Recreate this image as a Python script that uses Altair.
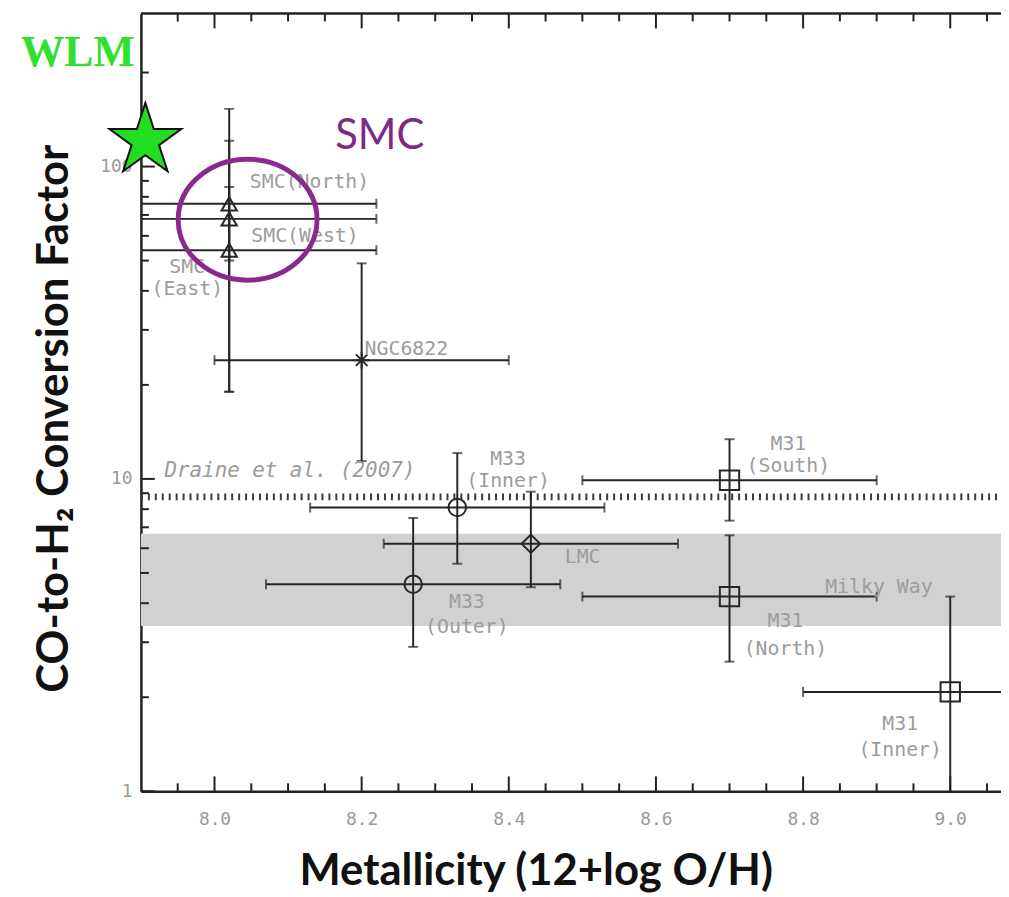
import altair as alt
import pandas as pd

# ---------------- data ----------------
names = ["SMC (North)", "SMC (West)", "SMC (East)", "NGC6822", "M33 (Inner)",
         "LMC", "M33 (Outer)", "M31 (South)", "M31 (North)", "M31 (Inner)"]
kinds = ["SMC", "SMC", "SMC", "NGC6822", "M33", "LMC", "M33", "M31", "M31", "M31"]
metallicity = [8.02, 8.02, 8.02, 8.20, 8.33, 8.43, 8.27, 8.70, 8.70, 9.00]
metallicity_err = [0.20, 0.20, 0.20, 0.20, 0.20, 0.20, 0.20, 0.20, 0.20, 0.20]
alpha_co = [76.0, 68.0, 54.0, 24.0, 8.1, 6.2, 4.6, 9.9, 4.2, 2.08]
alpha_lo = [50.0, 19.0, 19.0, 11.4, 5.35, 4.5, 2.9, 7.35, 2.6, 0.5]
alpha_hi = [153.0, 121.0, 86.0, 49.0, 12.1, 9.1, 7.5, 13.4, 6.6, 4.2]

# WLM highlight
wlm_metal = [7.906]
wlm_alpha = [121.0]

# Milky Way range (grey band) and Draine et al. (2007) level
band_lo = [3.38]
band_hi = [6.67]
draine_level = [8.76]

# axis ticks
x_major = [8.0, 8.2, 8.4, 8.6, 8.8, 9.0]
x_minor = [7.95, 8.05, 8.10, 8.15, 8.25, 8.30, 8.35, 8.45, 8.50, 8.55,
           8.65, 8.70, 8.75, 8.85, 8.90, 8.95, 9.05]
y_major = [1, 10, 100]
y_minor = [2, 3, 4, 5, 6, 7, 8, 9, 20, 30, 40, 50, 60, 70, 80, 90, 200]

# labels
lab_left_text = ["SMC(North)", "SMC(West)", "NGC6822", "LMC", "Milky Way"]
lab_left_x = [8.048, 8.050, 8.204, 8.476, 8.83]
lab_left_y = [89.5, 60.1, 26.1, 5.62, 4.51]
lab_ctr_text = ["SMC", "(East)", "M33", "(Inner)", "M33", "(Outer)", "M31", "(South)",
                "M31", "(North)", "M31", "(Inner)"]
lab_ctr_x = [7.963, 7.963, 8.399, 8.399, 8.343, 8.343, 8.78, 8.78, 8.776, 8.776, 8.932, 8.932]
lab_ctr_y = [47.8, 40.6, 11.6, 9.85, 4.03, 3.36, 12.96, 11.0, 3.51, 2.85, 1.64, 1.36]
draine_text = ["Draine et al. (2007)"]
draine_x = [7.932]
draine_y = [10.6]

# ---------------- chart ----------------
W, H = 867, 784
xs = alt.Scale(domain=[7.9, 9.069], nice=False, zero=False)
ys = alt.Scale(type="log", domain=[1, 309], nice=False)

X_AXIS = alt.Axis(
    orient="bottom",
    title="Metallicity (12+log O/H)", values=x_major, format=".1f", ticks=False, tickSize=0,
    grid=False, labelPadding=20, labelFont="DejaVu Sans Mono", labelFontSize=18,
    labelColor="#999999", labelFlush=False, labelOverlap=False,
    domainColor="#222222", domainWidth=2.5,
    titleFont="Lato", titleFontWeight="bold", titleFontSize=44, titleColor="#111111",
    titleX=398, titleY=94, titleAlign="center", titleBaseline="alphabetic")
Y_AXIS = alt.Axis(
    orient="left",
    title="CO-to-H₂ Conversion Factor", values=y_major, format="d", ticks=False, tickSize=0,
    grid=False, labelPadding=9, labelFont="DejaVu Sans Mono", labelFontSize=18,
    labelColor="#999999", labelFlush=False, labelOverlap=False,
    domainColor="#222222", domainWidth=2.5,
    titleFont="Lato", titleFontWeight="bold", titleFontSize=44, titleColor="#111111",
    titleX=-87, titleY=408, titleAngle=270, titleAlign="center", titleBaseline="middle")


def X(f):
    return alt.X(f, type="quantitative", scale=xs, axis=X_AXIS)


def Y(f):
    return alt.Y(f, type="quantitative", scale=ys, axis=Y_AXIS)


df = pd.DataFrame({"name": names, "kind": kinds, "metal": metallicity,
                   "merr": metallicity_err, "alpha": alpha_co,
                   "alo": alpha_lo, "ahi": alpha_hi})
df["mlo"] = df["metal"] - df["merr"]
df["mhi"] = df["metal"] + df["merr"]

caps_v = pd.concat([df[["metal"]].assign(a=df["alo"]), df[["metal"]].assign(a=df["ahi"])])
caps_h = pd.concat([df[["alpha"]].assign(m=df["mlo"]), df[["alpha"]].assign(m=df["mhi"])])

band = alt.Chart(pd.DataFrame({"lo": band_lo, "hi": band_hi})).mark_rect(
    color="#d1d1d1", clip=True).encode(y=Y("lo"), y2="hi", x=alt.value(0), x2=alt.value(W))

draine = alt.Chart(pd.DataFrame({"v": draine_level})).mark_rule(
    color="#3a3a3a", strokeWidth=7, strokeDash=[2, 5], clip=True).encode(
    y=Y("v"), x=alt.value(0), x2=alt.value(W))

ink = "#262626"
err_x = alt.Chart(df).mark_rule(color=ink, strokeWidth=2, clip=True).encode(
    x=X("mlo"), x2="mhi", y=Y("alpha"))
err_y = alt.Chart(df).mark_rule(color=ink, strokeWidth=2, clip=True).encode(
    x=X("metal"), y=Y("alo"), y2="ahi")
cap_y = alt.Chart(caps_v).mark_tick(color=ink, orient="horizontal", size=10,
                                    thickness=2, clip=True).encode(x=X("metal"), y=Y("a"))
cap_x = alt.Chart(caps_h).mark_tick(color=ink, orient="vertical", size=10,
                                    thickness=2, clip=True).encode(x=X("m"), y=Y("alpha"))

asterisk = "M-1,0L1,0M0,-1L0,1M-0.7,-0.7L0.7,0.7M-0.7,0.7L0.7,-0.7"
kind_dom = ["SMC", "NGC6822", "M33", "LMC", "M31"]
points = alt.Chart(df).mark_point(filled=False, stroke=ink, strokeWidth=2, opacity=1,
                                  clip=True).encode(
    x=X("metal"), y=Y("alpha"),
    shape=alt.Shape("kind:N", scale=alt.Scale(
        domain=kind_dom, range=["triangle-up", asterisk, "circle", "diamond", "square"]),
        legend=None),
    size=alt.Size("kind:N", scale=alt.Scale(domain=kind_dom, range=[240, 380, 290, 300, 500]),
                  legend=None))

# ticks drawn inward
tick_col = "#222222"
xt_major_b = alt.Chart(pd.DataFrame({"v": x_major})).mark_rule(color=tick_col, strokeWidth=2).encode(
    x=X("v"), y=alt.value(H), y2=alt.value(H - 15))
xt_minor_b = alt.Chart(pd.DataFrame({"v": x_minor})).mark_rule(color=tick_col, strokeWidth=2).encode(
    x=X("v"), y=alt.value(H), y2=alt.value(H - 8))
xt_major_t = alt.Chart(pd.DataFrame({"v": x_major})).mark_rule(color=tick_col, strokeWidth=2).encode(
    x=X("v"), y=alt.value(0), y2=alt.value(15))
xt_minor_t = alt.Chart(pd.DataFrame({"v": x_minor})).mark_rule(color=tick_col, strokeWidth=2).encode(
    x=X("v"), y=alt.value(0), y2=alt.value(8))
yt_major = alt.Chart(pd.DataFrame({"v": y_major})).mark_rule(color=tick_col, strokeWidth=2).encode(
    y=Y("v"), x=alt.value(0), x2=alt.value(14))
yt_minor = alt.Chart(pd.DataFrame({"v": y_minor})).mark_rule(color=tick_col, strokeWidth=2).encode(
    y=Y("v"), x=alt.value(0), x2=alt.value(8))
top_border = alt.Chart(pd.DataFrame({"v": [0]})).mark_rule(color="#222222", strokeWidth=2.5).encode(
    y=alt.value(0), x=alt.value(0), x2=alt.value(W))

lab_font = "DejaVu Sans Mono"
lab_col = "#9c9c9c"
lab_left = alt.Chart(pd.DataFrame({"t": lab_left_text, "x": lab_left_x, "y": lab_left_y})).mark_text(
    align="left", baseline="middle", font=lab_font, fontSize=20, color=lab_col).encode(
    x=X("x"), y=Y("y"), text="t:N")
lab_ctr = alt.Chart(pd.DataFrame({"t": lab_ctr_text, "x": lab_ctr_x, "y": lab_ctr_y})).mark_text(
    align="center", baseline="middle", font=lab_font, fontSize=20, color=lab_col).encode(
    x=X("x"), y=Y("y"), text="t:N")
lab_draine = alt.Chart(pd.DataFrame({"t": draine_text, "x": draine_x, "y": draine_y})).mark_text(
    align="left", baseline="middle", font=lab_font, fontSize=21, fontStyle="italic",
    color=lab_col).encode(x=X("x"), y=Y("y"), text="t:N")

# WLM highlight and SMC annotation
star = ("M0,-1L0.2245,-0.309L0.951,-0.309L0.3633,0.118L0.5878,0.809L0,0.382"
        "L-0.5878,0.809L-0.3633,0.118L-0.951,-0.309L-0.2245,-0.309Z")
wlm_df = pd.DataFrame({"m": wlm_metal, "a": wlm_alpha})
wlm_star = alt.Chart(wlm_df).mark_point(shape=star, filled=True, fill="#22dd22",
                                        stroke="#111111", strokeWidth=2, opacity=1,
                                        size=5800).encode(x=X("m"), y=Y("a"))
wlm_text = alt.Chart(pd.DataFrame({"t": ["WLM"], "m": [7.814], "a": [230.0]})).mark_text(
    font="Liberation Serif", fontWeight="bold", fontSize=44, color="#2fe02f",
    align="center", baseline="middle").encode(x=X("m"), y=Y("a"), text="t:N")
smc_text = alt.Chart(pd.DataFrame({"t": ["SMC"], "m": [8.2245], "a": [125.6]})).mark_text(
    font="Lato", fontSize=42, color="#7e2a84", align="center", baseline="middle").encode(
    x=X("m"), y=Y("a"), text="t:N")
# ellipse as four cubic curves (rx = 1, ry = 0.871)
ellipse = ("M1,0C1,0.481,0.5523,0.871,0,0.871C-0.5523,0.871,-1,0.481,-1,0"
           "C-1,-0.481,-0.5523,-0.871,0,-0.871C0.5523,-0.871,1,-0.481,1,0Z")
smc_ring = alt.Chart(pd.DataFrame({"m": [8.045], "a": [67.6]})).mark_point(
    shape=ellipse, filled=False, stroke="#8a2a8f", strokeWidth=5, opacity=1,
    size=19600).encode(x=X("m"), y=Y("a"))

chart = alt.layer(
    band, draine, err_x, err_y, cap_y, cap_x, points,
    xt_major_b, xt_minor_b, xt_major_t, xt_minor_t, yt_major, yt_minor, top_border,
    lab_left, lab_ctr, lab_draine, wlm_star, wlm_text, smc_ring, smc_text
).properties(
    width=W, height=H,
    autosize=alt.AutoSizeParams(type="none"),
    padding={"left": 134, "top": 2, "right": 0, "bottom": 100},
    background="white",
).configure_view(stroke=None)

chart.save("out.html", embed_options={"renderer": "svg", "actions": False})
